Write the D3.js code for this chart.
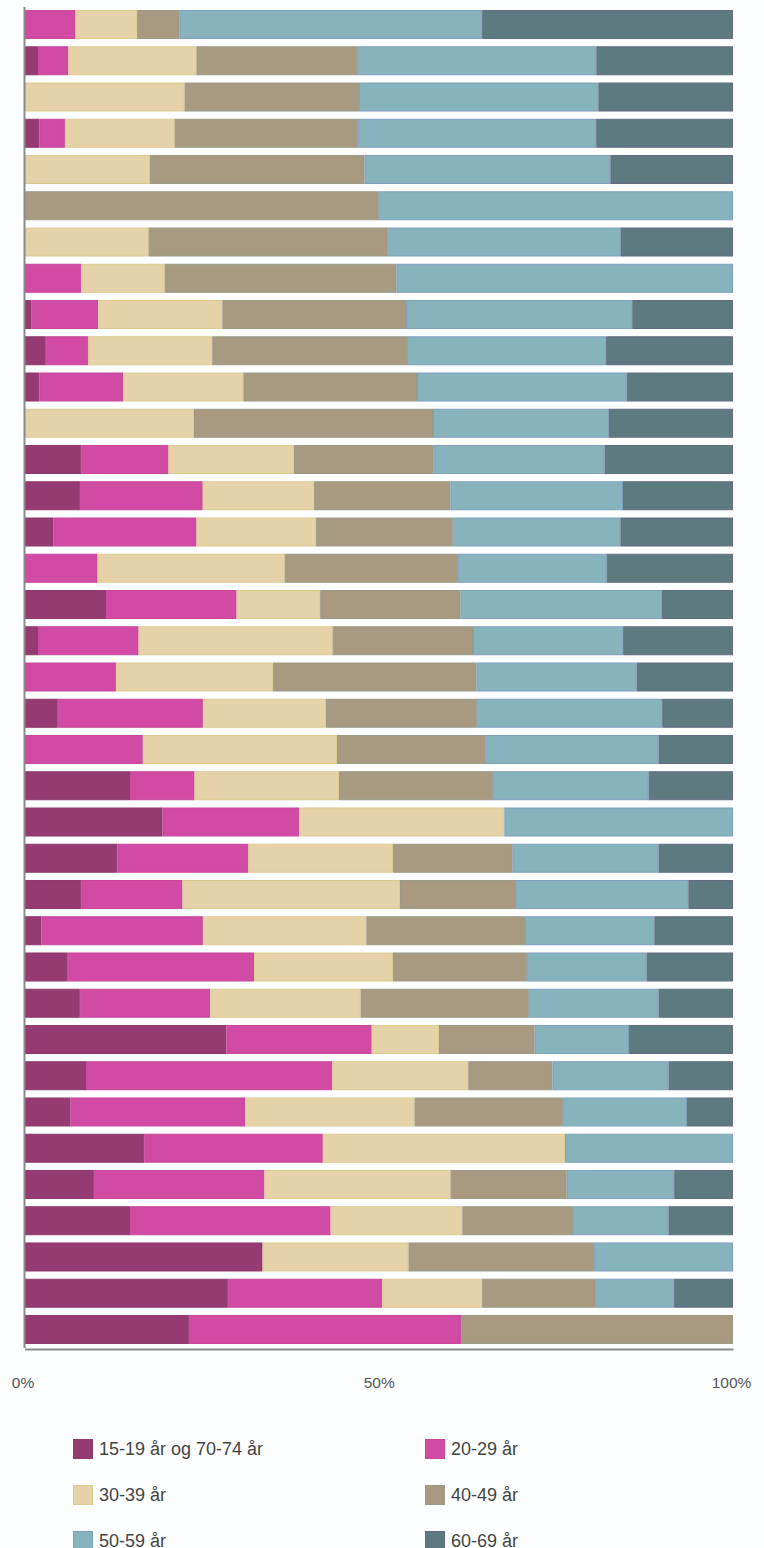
<!DOCTYPE html>
<html>
<head>
<meta charset="utf-8">
<script src="https://cdn.jsdelivr.net/npm/d3@7"></script>
<style>
  html, body { margin: 0; padding: 0; background: #fcfeff; }
  svg { display: block; }
  text { font-family: "Liberation Sans", Arial, sans-serif; }
</style>
</head>
<body>
<svg id="chart" width="764" height="1548"></svg>
<script>
// Series (age groups)
const seriesNames = ["15-19 år og 70-74 år", "20-29 år", "30-39 år", "40-49 år", "50-59 år", "60-69 år"];
// Categories (unlabelled rows, top to bottom)
const categories = d3.range(1, 38).map(i => "Rad " + i);

// Share (%) per row for each series
const s1519_7074 = [0,1.9,0,2.1,0,0,0,0,1.0,3.0,2.1,0,8.0,7.8,4.1,0,11.5,1.9,0,4.7,0,14.9,19.5,13.1,8.0,2.4,6.1,7.8,28.5,8.7,6.5,16.9,9.8,14.9,33.6,28.7,23.2];
const s2029 = [7.2,4.3,0,3.6,0,0,0,8.0,9.4,6.0,11.8,0,12.3,17.3,20.2,10.3,18.4,14.2,12.9,20.5,16.7,9.1,19.3,18.5,14.3,22.8,26.3,18.4,20.5,34.8,24.6,25.2,24.1,28.3,0,21.8,38.4];
const s3039 = [8.7,18.1,22.6,15.5,17.7,0,17.5,11.8,17.5,17.5,17.0,23.9,17.7,15.7,16.9,26.4,11.8,27.4,22.2,17.4,27.4,20.4,29.0,20.4,30.7,23.1,19.6,21.2,9.5,19.2,23.9,34.2,26.3,18.6,20.6,14.1,0];
const s4049 = [6.0,22.7,24.6,25.9,30.3,50.0,33.8,32.7,25.9,27.5,24.5,33.7,19.7,19.2,19.3,24.4,19.8,19.8,28.7,21.3,21.0,21.7,0,16.9,16.4,22.4,18.9,23.7,13.5,11.9,20.9,0,16.4,15.6,26.2,16.1,38.4];
const s5059 = [42.7,33.8,33.8,33.6,34.7,50.0,32.8,47.5,31.9,28.1,29.6,24.8,24.1,24.3,23.7,21.0,28.4,21.2,22.6,26.2,24.4,22.0,32.3,20.6,24.3,18.3,16.9,18.3,13.3,16.4,17.5,23.7,15.2,13.5,19.6,11.0,0];
const s6069 = [35.4,19.3,19.0,19.3,17.3,0,15.8,0,14.2,17.9,15.0,17.5,18.1,15.5,15.9,17.8,10.0,15.5,13.6,10.0,10.5,11.9,0,10.5,6.3,11.1,12.2,10.5,14.7,9.1,6.5,0,8.3,9.1,0,8.3,0];

// Axis tick values (share of total)
const tickValues = [0, 0.5, 1];

// Styles
const fillColors = ["#963a74", "#d14ba4", "#e5d2a9", "#a89a80", "#87b3bc", "#5d7a80"];
const strokeColors = ["#8e3a6c", "#c8479b", "#dccb8e", "#9a9a86", "#7f9fc0", "#646c84"];

const seriesValues = [s1519_7074, s2029, s3039, s4049, s5059, s6069];
const rows = categories.map((c, i) => {
  const r = { cat: c };
  seriesNames.forEach((s, j) => { r[s] = seriesValues[j][i]; });
  return r;
});

const svg = d3.select("#chart");
const left = 24.5, right = 733;

const x = d3.scaleLinear().domain([0, 1]).range([left, right]);
const y = d3.scaleBand().domain(categories).range([6.4, 1347.6]).paddingInner(0.2).paddingOuter(0.1);
const color = d3.scaleOrdinal().domain(seriesNames).range(fillColors);
const strokeColor = d3.scaleOrdinal().domain(seriesNames).range(strokeColors);

const stacked = d3.stack().keys(seriesNames).offset(d3.stackOffsetExpand)(rows);

const g = svg.append("g");
g.selectAll("g.series")
  .data(stacked)
  .join("g")
  .attr("class", "series")
  .attr("fill", d => color(d.key))
  .attr("stroke", d => strokeColor(d.key))
  .attr("stroke-width", 1)
  .selectAll("rect")
  .data(d => d.filter(p => p[1] - p[0] > 0))
  .join("rect")
  .attr("x", p => x(p[0]) + 0.5)
  .attr("y", p => y(p.data.cat) + 0.5)
  .attr("width", p => Math.max(0, x(p[1]) - x(p[0]) - 1))
  .attr("height", y.bandwidth() - 1);

// Left axis line
const yAxis = svg.append("g")
  .attr("transform", `translate(${left - 0.5},0)`)
  .call(d3.axisLeft(y).tickSize(0).tickFormat(() => "").tickSizeOuter(0));
yAxis.select(".domain").attr("stroke", "#8a8a8a").attr("stroke-width", 2);
yAxis.selectAll(".tick").remove();

// Bottom axis
const xAxis = svg.append("g")
  .attr("transform", `translate(0,1349)`)
  .call(d3.axisBottom(x).tickValues(tickValues).tickFormat(d3.format(".0%")).tickSize(0).tickSizeOuter(0).tickPadding(28));
xAxis.select(".domain").attr("stroke", "#8a8a8a").attr("stroke-width", 2);
xAxis.selectAll(".tick text")
  .attr("font-size", 15.5)
  .attr("fill", "#555")
  .attr("font-family", "'Liberation Sans', Arial, sans-serif")
  .attr("text-anchor", "middle")
  .attr("dx", (d, i) => i === 0 ? -2 : (i === 2 ? -2 : 0));

// Legend
const legend = svg.append("g").attr("class", "legend");
const legendItems = legend.selectAll("g")
  .data(seriesNames)
  .join("g")
  .attr("transform", (d, i) => `translate(${i % 2 === 0 ? 73 : 425},${1439 + Math.floor(i / 2) * 46})`);
legendItems.append("rect")
  .attr("x", 0.5).attr("y", 0.5)
  .attr("width", 19).attr("height", 19)
  .attr("fill", d => color(d))
  .attr("stroke", d => strokeColor(d))
  .attr("stroke-width", 1);
legendItems.append("text")
  .attr("x", 26)
  .attr("y", 16)
  .attr("font-size", 18)
  .attr("fill", "#444")
  .text(d => d);
</script>
</body>
</html>
